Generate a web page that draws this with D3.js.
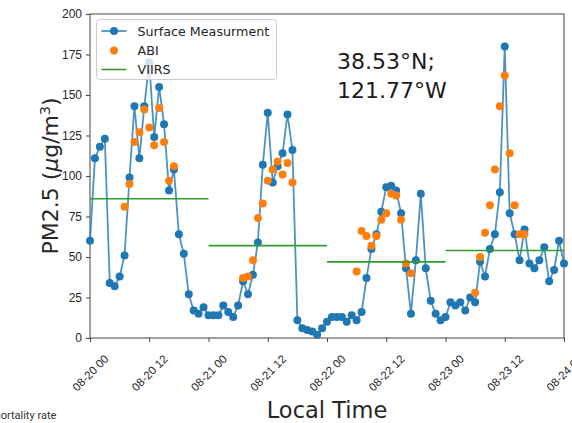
<!DOCTYPE html>
<html>
<head>
<meta charset="utf-8">
<script src="https://cdn.jsdelivr.net/npm/d3@7"></script>
<style>
  html, body { margin: 0; padding: 0; background: #fff; }
  svg { display: block; font-family: "DejaVu Sans", sans-serif; }
</style>
</head>
<body>
<svg id="chart" width="572" height="423"></svg>
<script>
// Hourly surface PM2.5 (µg/m³), starting 2020-08-20 00:00 local time
const surfaceStart = "2020-08-20T00:00:00Z";
const surfaceValues = [
  60, 111, 118, 123, 34, 32, 38, 51, 99, 143, 111, 143, 170, 124, 155, 132, 91, 104, 64, 52, 27, 17, 15, 19,
  14, 14, 14, 20, 16, 13, 20, 35, 27, 39, 59, 107, 139, 96, 106, 114, 138, 116, 11, 6, 5, 4, 2, 6,
  10, 13, 13, 13, 10, 14, 11, 16, 37, 55, 64, 78, 93, 94, 91, 77, 43, 15, 48, 89, 43, 23, 15, 11,
  13, 22, 20, 22, 17, 25, 22, 47, 38, 55, 64, 90, 180, 77, 64, 48, 67, 46, 43, 48, 56, 35, 42, 60,
  46
];

// ABI retrievals: hours after the start, and values
const abiHours = [
  7, 8, 9, 10, 11, 12, 13, 14, 15, 16, 17,
  31, 32, 33, 34, 35, 36, 37, 38, 39, 40, 41,
  54, 55, 56, 57, 58, 59, 60, 61, 62, 63, 64, 65,
  78, 79, 80, 81, 82, 83, 84, 85, 86, 87, 88
];
const abiValues = [
  81, 95, 121, 127, 141, 130, 119, 142, 121, 97, 106,
  37, 38, 48, 74, 83, 97, 104, 109, 101, 108, 96,
  41, 66, 63, 57, 63, 73, 77, 89, 88, 73, 46, 40,
  28, 50, 65, 82, 104, 143, 162, 114, 82, 64, 64
];

// VIIRS daily values
const viirsDays = ["2020-08-20", "2020-08-21", "2020-08-22", "2020-08-23"];
const viirsValues = [86, 57, 47, 54];

const yTicks = [0, 25, 50, 75, 100, 125, 150, 175, 200];
const xDomain = ["2020-08-20T00:00:00Z", "2020-08-24T00:00:00Z"];

const legendLabels = ["Surface Measurment", "ABI", "VIIRS"];
const siteLabel = ["38.53°N;", "121.77°W"];

const HOUR = 3600 * 1000;
const t0 = new Date(surfaceStart).getTime();
const surface = surfaceValues.map((v, i) => ({ t: new Date(t0 + i * HOUR), v }));
const abi = abiHours.map((h, i) => ({ t: new Date(t0 + h * HOUR), v: abiValues[i] }));
const viirs = viirsDays.map((d, i) => ({
  t1: new Date(d + "T00:00:00Z"),
  t2: new Date(new Date(d + "T00:00:00Z").getTime() + 24 * HOUR),
  v: viirsValues[i]
}));

const svg = d3.select("#chart");
const plotL = 90, plotR = 564, plotT = 14, plotB = 338;

const x = d3.scaleUtc().domain(xDomain.map(d => new Date(d))).range([plotL, plotR]);
const y = d3.scaleLinear().domain([0, 200]).range([plotB, plotT]);

const textColor = "#262626";
const axisColor = "#444";

// Axes
const xTicks = d3.range(0, 97, 12).map(h => new Date(t0 + h * HOUR));
const xAxis = svg.append("g")
  .attr("transform", `translate(0,${plotB})`)
  .call(d3.axisBottom(x).tickValues(xTicks).tickFormat(d3.utcFormat("%m-%d %H")).tickSize(4).tickPadding(4));
xAxis.select(".domain").remove();
xAxis.selectAll(".tick line").attr("stroke", axisColor);
xAxis.selectAll(".tick text")
  .attr("fill", textColor)
  .style("font-size", "11.5px")
  .attr("text-anchor", "middle")
  .attr("dy", null)
  .attr("y", null)
  .attr("dominant-baseline", "central")
  .attr("transform", "translate(0,35) rotate(-45)");

const yAxis = svg.append("g")
  .attr("transform", `translate(${plotL},0)`)
  .call(d3.axisLeft(y).tickValues(yTicks).tickSize(4).tickPadding(4));
yAxis.select(".domain").remove();
yAxis.selectAll(".tick line").attr("stroke", axisColor);
yAxis.selectAll(".tick text").attr("fill", textColor).style("font-size", "12px");

// Frame
svg.append("rect")
  .attr("x", plotL).attr("y", plotT)
  .attr("width", plotR - plotL).attr("height", plotB - plotT)
  .attr("fill", "none").attr("stroke", axisColor).attr("stroke-width", 1);

const plot = svg.append("g");

// Surface measurements: line with markers
plot.append("path")
  .datum(surface)
  .attr("fill", "none")
  .attr("stroke", "#1f77b4")
  .attr("stroke-opacity", 0.8)
  .attr("stroke-width", 1.8)
  .attr("d", d3.line().x(d => x(d.t)).y(d => y(d.v)));
plot.selectAll("circle.surf").data(surface).join("circle")
  .attr("class", "surf")
  .attr("cx", d => x(d.t)).attr("cy", d => y(d.v)).attr("r", 4)
  .attr("fill", "#1f77b4");

// ABI points
plot.selectAll("circle.abi").data(abi).join("circle")
  .attr("class", "abi")
  .attr("cx", d => x(d.t)).attr("cy", d => y(d.v)).attr("r", 4)
  .attr("fill", "#ff7f0e");

// VIIRS daily segments
plot.selectAll("line.viirs").data(viirs).join("line")
  .attr("class", "viirs")
  .attr("x1", d => x(d.t1)).attr("x2", d => x(d.t2))
  .attr("y1", d => y(d.v)).attr("y2", d => y(d.v))
  .attr("stroke", "#2ca02c").attr("stroke-width", 1.6);

// Legend
const lg = svg.append("g").attr("transform", "translate(96.5,19.5)");
lg.append("rect")
  .attr("width", 180).attr("height", 60).attr("rx", 3)
  .attr("fill", "#fff").attr("fill-opacity", 0.8)
  .attr("stroke", "#ccc");
const rows = [11.5, 31, 50];
lg.append("line").attr("x1", 5).attr("x2", 30).attr("y1", rows[0]).attr("y2", rows[0])
  .attr("stroke", "#1f77b4").attr("stroke-opacity", 0.8).attr("stroke-width", 1.8);
lg.append("circle").attr("cx", 17.5).attr("cy", rows[0]).attr("r", 4).attr("fill", "#1f77b4");
lg.append("circle").attr("cx", 17.5).attr("cy", rows[1]).attr("r", 4).attr("fill", "#ff7f0e");
lg.append("line").attr("x1", 5).attr("x2", 30).attr("y1", rows[2]).attr("y2", rows[2])
  .attr("stroke", "#2ca02c").attr("stroke-width", 1.6);
lg.selectAll("text").data(legendLabels).join("text")
  .attr("x", 41).attr("y", (d, i) => rows[i])
  .attr("dominant-baseline", "central")
  .attr("fill", textColor)
  .style("font-size", "12.7px")
  .text(d => d);

// Site coordinates
svg.append("g").selectAll("text").data(siteLabel).join("text")
  .attr("x", 337).attr("y", (d, i) => 69 + i * 29)
  .attr("fill", "#1a1a1a")
  .style("font-size", "22px")
  .text(d => d);

// Axis titles
svg.append("text")
  .attr("transform", `translate(58,${(plotT + plotB) / 2}) rotate(-90)`)
  .attr("text-anchor", "middle")
  .attr("fill", textColor)
  .style("font-size", "22px")
  .html('PM2.5 (<tspan font-style="italic">μ</tspan>g/m<tspan baseline-shift="super" font-size="14px">3</tspan>)');

svg.append("text")
  .attr("x", (plotL + plotR) / 2).attr("y", 418)
  .attr("text-anchor", "middle")
  .attr("fill", textColor)
  .style("font-size", "22.5px")
  .text("Local Time");

// Caption fragment below the figure
svg.append("text")
  .attr("x", -9).attr("y", 419)
  .attr("fill", "#333")
  .style("font-family", "Roboto, sans-serif")
  .style("font-size", "11px")
  .text("mortality rate");
</script>
</body>
</html>
